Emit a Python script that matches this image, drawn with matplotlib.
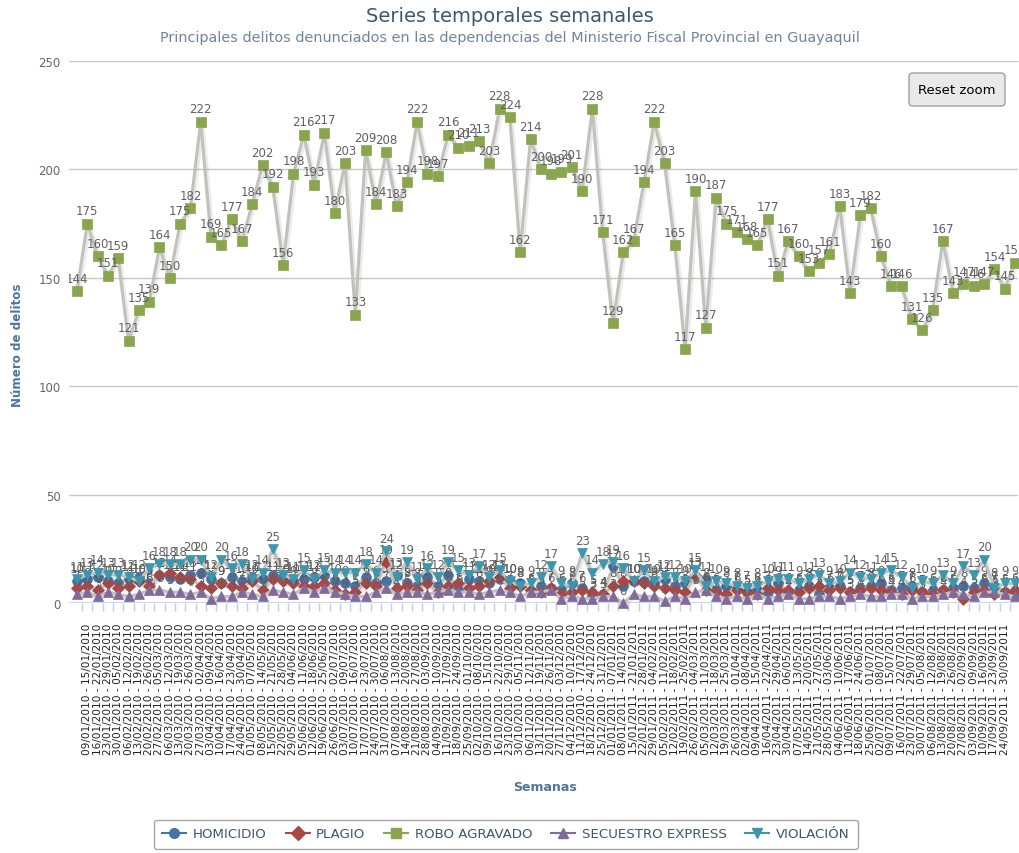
import numpy as np
import pandas as pd
import matplotlib
matplotlib.use('Agg')
import matplotlib.pyplot as plt
import matplotlib.patheffects as pe
from matplotlib.patches import FancyBboxPatch
from matplotlib.lines import Line2D
from matplotlib.transforms import Bbox, TransformedBbox

# weekly counts, first week starts 02/01/2010
week_start = '2010-01-02'
n_weeks = 92

robo = [144, 175, 160, 151, 159, 121, 135, 139, 164, 150,
        175, 182, 222, 169, 165, 177, 167, 184, 202, 192,
        156, 198, 216, 193, 217, 180, 203, 133, 209, 184,
        208, 183, 194, 222, 198, 197, 216, 210, 211, 213,
        203, 228, 224, 162, 214, 200, 198, 199, 201, 190,
        228, 171, 129, 162, 167, 194, 222, 203, 165, 117,
        190, 127, 187, 175, 171, 168, 165, 177, 151, 167,
        160, 153, 157, 161, 183, 143, 179, 182, 160, 146,
        146, 131, 126, 135, 167, 143, 147, 146, 147, 154,
        145, 157]

violacion = [11, 13, 14, 13, 13, 12, 10, 16, 18, 18,
             18, 20, 20, 12, 20, 16, 18, 11, 14, 25,
             13, 11, 15, 11, 15, 14, 14, 14, 18, 14,
             24, 12, 19, 11, 16, 12, 19, 15, 13, 17,
             12, 15, 10, 8, 9, 12, 17, 9, 8, 23,
             14, 18, 19, 16, 10, 15, 10, 12, 12, 10,
             15, 8, 10, 9, 8, 7, 8, 10, 11, 11,
             9, 11, 13, 9, 10, 14, 12, 11, 14, 15,
             12, 7, 10, 9, 13, 9, 17, 13, 20, 7,
             9, 9]

homicidio = [10, 11, 12, 10, 9, 11, 12, 9, 13, 12,
             11, 13, 14, 11, 9, 12, 10, 12, 11, 13,
             12, 10, 11, 12, 13, 10, 9, 8, 12, 9,
             10, 13, 9, 8, 12, 8, 13, 6, 11, 10,
             9, 11, 10, 9, 5, 8, 7, 6, 9, 7,
             3, 4, 17, 8, 10, 10, 9, 11, 8, 9,
             12, 11, 6, 8, 7, 5, 6, 5, 9, 5,
             6, 8, 4, 7, 8, 5, 7, 8, 9, 6,
             7, 8, 5, 6, 6, 7, 8, 7, 9, 8,
             5, 4]

plagio = [7, 8, 6, 9, 7, 8, 10, 8, 13, 14,
          12, 11, 8, 7, 9, 8, 7, 10, 6, 11,
          10, 9, 8, 8, 9, 6, 4, 5, 9, 8,
          19, 7, 8, 6, 9, 5, 8, 9, 7, 8,
          10, 12, 7, 8, 6, 5, 7, 4, 5, 6,
          5, 4, 8, 10, 10, 9, 8, 7, 6, 5,
          13, 6, 5, 4, 6, 5, 4, 7, 6, 6,
          5, 7, 8, 6, 7, 5, 6, 7, 6, 5,
          4, 6, 5, 4, 6, 5, 2, 5, 6, 4,
          5, 6]

secuestro = [4, 5, 3, 5, 4, 3, 4, 6, 6, 5,
             5, 4, 5, 2, 3, 3, 5, 4, 3, 6,
             5, 4, 7, 5, 7, 5, 4, 3, 3, 5,
             7, 4, 5, 5, 4, 5, 6, 5, 5, 4,
             5, 6, 5, 3, 5, 5, 6, 2, 3, 2,
             2, 3, 3, 0, 4, 3, 3, 1, 3, 2,
             5, 6, 3, 2, 3, 2, 4, 2, 3, 4,
             2, 2, 3, 3, 2, 3, 4, 3, 3, 4,
             4, 2, 3, 3, 4, 5, 4, 3, 5, 5,
             4, 3]

series_names = ['HOMICIDIO', 'PLAGIO', 'ROBO AGRAVADO', 'SECUESTRO EXPRESS', 'VIOLACIÓN']
series_data = [homicidio, plagio, robo, secuestro, violacion]
colors = ['#4572A7', '#AA4643', '#89A54E', '#80699B', '#3D96AE']
markers = ['o', 'D', 's', '^', 'v']
msizes = [7, 6, 7.5, 7.5, 7.5]

weeks = pd.date_range(week_start, periods=n_weeks, freq='7D')
week_labels = [f"{d:%d/%m/%Y} - {d + pd.Timedelta(days=6):%d/%m/%Y}" for d in weeks]
x = np.arange(n_weeks)

W, H = 1020, 854
fig = plt.figure(figsize=(W / 100, H / 100), dpi=100)
fig.patch.set_facecolor('white')

def fx(px):
    return px / W

def fy(py):
    return 1 - py / H

left, right, top, bottom = 69, 1018, 62, 604
ax = fig.add_axes([fx(left), fy(bottom), fx(right - left), (bottom - top) / H])
ax.set_facecolor('white')

step = (1015 - 77) / 91.0
ax.set_xlim(-(77 - left) / step, 91 + (right - 1015) / step)
ax.set_ylim(0, 250)

for s in ax.spines.values():
    s.set_visible(False)
ax.axhline(0, color='#C0D0E0', lw=1.2, zorder=1)
for yv in range(50, 251, 50):
    ax.axhline(yv, color='#C8C8C8', lw=1, zorder=1)

ax.set_yticks(range(0, 251, 50))
ax.tick_params(axis='y', length=0, labelsize=8.5, labelcolor='#666666', pad=6)

# date labels on the visible weeks, tick marks between categories
ax.set_xticks(x[1:91])
ax.set_xticklabels(week_labels[1:91], rotation=90, fontsize=7.6, color='#222222')
ax.tick_params(axis='x', length=0, pad=14)
ax.set_xticks(x[:91] + 0.5, minor=True)
ax.tick_params(axis='x', which='minor', length=6, color='#C0D0E0', width=1)

clip = TransformedBbox(Bbox([[0, -0.03], [1, 1.02]]), ax.transAxes)
shadow = [pe.SimpleLineShadow(offset=(0.8, -1.2), shadow_color='black', alpha=0.08, linewidth=4),
          pe.Normal()]

for i, (name, vals) in enumerate(zip(series_names, series_data)):
    z = 3 + i
    ln, = ax.plot(x, vals, color='#C2C2BC', lw=2.2, zorder=z, path_effects=shadow)
    mk, = ax.plot(x, vals, ls='none', marker=markers[i], ms=msizes[i],
                  mfc=colors[i], mec=colors[i], mew=0.5, zorder=z + 0.5)
    for a in (ln, mk):
        a.set_clip_box(clip)
    for xi, v in zip(x, vals):
        t = ax.annotate(str(v), (xi, v), xytext=(0, 4.5), textcoords='offset points',
                        ha='center', va='bottom', fontsize=8.5, color='#606060',
                        zorder=z + 0.6)
        t.set_clip_box(clip)
        t.set_clip_on(True)

# titles
fig.text(0.5, fy(17), 'Series temporales semanales', ha='center', va='center',
         fontsize=14, color='#3E576F')
fig.text(0.5, fy(38), 'Principales delitos denunciados en las dependencias del Ministerio Fiscal Provincial en Guayaquil',
         ha='center', va='center', fontsize=10.4, color='#6D869F')
fig.text(fx(18), fy(345), 'Número de delitos', rotation=90, ha='center', va='center',
         fontsize=8.6, fontweight='bold', color='#4D759E')
fig.text(fx(545), fy(788), 'Semanas', ha='center', va='center',
         fontsize=9, fontweight='bold', color='#4D759E')

# reset zoom button
btn = FancyBboxPatch((fx(909), fy(107)), fx(96), 33 / H,
                     boxstyle='round,pad=0,rounding_size=0.004',
                     transform=fig.transFigure, facecolor='#E9E9E9',
                     edgecolor='#A0A0A0', lw=1, zorder=10)
fig.patches.append(btn)
fig.text(fx(957), fy(91), 'Reset zoom', ha='center', va='center', fontsize=9.5,
         color='black', zorder=11)

# legend
handles = [Line2D([0], [0], color=c, lw=1.5, marker=m, ms=7, mfc=c, mec=c)
           for c, m in zip(colors, markers)]
leg = fig.legend(handles, series_names, loc='center', bbox_to_anchor=(fx(506), fy(835)),
                 ncol=5, frameon=True, fancybox=True, fontsize=9.6, labelcolor='#3E576F',
                 edgecolor='#909090', handlelength=1.8, handletextpad=0.5,
                 columnspacing=1.4, borderpad=0.6)
leg.get_frame().set_linewidth(1)

fig.savefig('out.png', dpi=100, facecolor='white')
